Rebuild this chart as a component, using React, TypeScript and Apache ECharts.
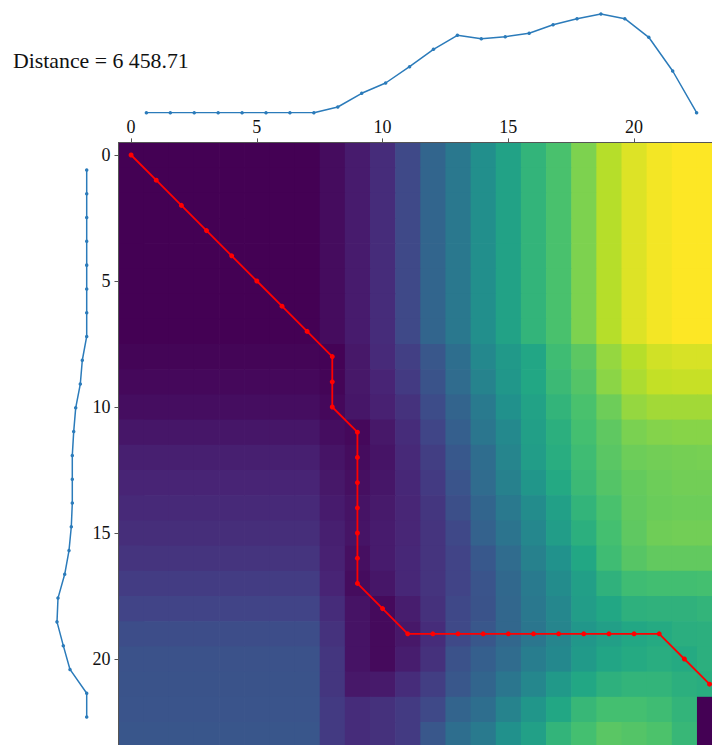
import React, { useEffect, useRef } from "react";
import * as echarts from "echarts";

// Category labels of the cost matrix (column = top series index, row = left series index)
const matrixIndex = [
  "0", "1", "2", "3", "4", "5", "6", "7", "8", "9", "10", "11",
  "12", "13", "14", "15", "16", "17", "18", "19", "20", "21", "22", "23",
];

// Accumulated cost matrix (relative level 0–100)
const costRows: number[][] = [
  [0, 0, 0, 0, 0, 0, 0, 0, 3, 7.5, 12.5, 22, 32.5, 40, 49, 57.5, 65, 71, 80.5, 89, 95, 98.5, 100, 100],
  [0, 0, 0, 0, 0, 0, 0, 0, 3, 7.5, 12.5, 22, 32.5, 40, 49, 57.5, 65, 71, 80.5, 89, 95, 98.5, 100, 100],
  [0, 0, 0, 0, 0, 0, 0, 0, 3, 7.5, 12.5, 22, 32.5, 40, 49, 57.5, 65, 71, 80.5, 89, 95, 98.5, 100, 100],
  [0, 0, 0, 0, 0, 0, 0, 0, 3, 7.5, 12.5, 22, 32.5, 40, 49, 57.5, 65, 71, 80.5, 89, 95, 98.5, 100, 100],
  [0, 0, 0, 0, 0, 0, 0, 0, 3, 7.5, 12.5, 22, 32.5, 40, 49, 57.5, 65, 71, 80.5, 89, 95, 98.5, 100, 100],
  [0, 0, 0, 0, 0, 0, 0, 0, 3, 7.5, 12.5, 22, 32.5, 40, 49, 57.5, 65, 71, 80.5, 89, 95, 98.5, 100, 100],
  [0, 0, 0, 0, 0, 0, 0, 0, 3, 7.5, 12.5, 22, 32.5, 40, 49, 57.5, 65, 71, 80.5, 89, 95, 98.5, 100, 100],
  [0, 0, 0, 0, 0, 0, 0, 0, 3, 7.5, 12.5, 22, 32.5, 40, 49, 57.5, 65, 71, 80.5, 89, 95, 98.5, 100, 100],
  [1, 1, 1, 1, 1, 1, 1, 1, 0.5, 6.5, 12, 18.5, 27, 36, 46.5, 53.5, 59, 68.5, 74.5, 84, 89, 93, 94, 94],
  [2, 2, 2, 2, 2, 2, 2, 2, 1, 6.5, 10, 17, 25.5, 35, 44.5, 52.5, 59.5, 67.5, 73, 82.5, 87.5, 91, 91.5, 91.5],
  [3.5, 3.5, 3.5, 3.5, 3.5, 3.5, 3.5, 3.5, 2, 6, 9, 14.5, 23, 32, 41, 50, 57.5, 65, 71, 77.5, 84, 86, 86, 86],
  [6, 6, 6, 6, 6, 6, 6, 6, 3.5, 2, 6.5, 12.5, 20.5, 30, 39, 47, 56, 63, 70, 75, 80, 81.5, 82, 82],
  [8.5, 8.5, 8.5, 8.5, 8.5, 8.5, 8.5, 8.5, 5.5, 3, 5.5, 11.5, 18, 27.5, 35.5, 45, 55, 62, 68.5, 74, 77.5, 78.5, 79, 79.5],
  [10, 10, 10, 10, 10, 10, 10, 10, 6.5, 4, 6, 11, 17, 26, 35, 43.5, 52, 60.5, 67.5, 73, 76, 77.5, 78.5, 78.5],
  [11.5, 11.5, 11.5, 11.5, 11.5, 11.5, 11.5, 11.5, 7.5, 5, 7, 10.5, 15.5, 24, 32.5, 40.5, 48, 56.5, 65, 71, 75.5, 77, 77.5, 77.5],
  [13, 13, 13, 13, 13, 13, 13, 13, 8.5, 5.5, 7.5, 10.5, 15, 21.5, 31, 38.5, 46, 55, 63, 70, 75, 78, 78.5, 78.5],
  [15, 15, 15, 15, 15, 15, 15, 15, 9, 4, 7.5, 11, 15, 20, 27.5, 35, 43.5, 50.5, 59.5, 68.5, 73.5, 75.5, 75.5, 75.5],
  [17.5, 17.5, 17.5, 17.5, 17.5, 17.5, 17.5, 17.5, 10, 3, 6, 11, 15, 20, 26, 33.5, 41, 48, 56, 64, 68.5, 69.5, 69.5, 70],
  [20, 20, 20, 20, 20, 20, 20, 20, 12.5, 5, 2.5, 8, 14, 21.5, 25.5, 33, 40, 46, 55, 59.5, 63.5, 64, 64, 65],
  [23.5, 23.5, 23.5, 23.5, 23.5, 23.5, 23.5, 23.5, 14.5, 5, 2.5, 6.5, 12.5, 22, 27, 33, 39, 45, 52.5, 56, 59.5, 61, 62.5, 63],
  [25, 25, 25, 25, 25, 25, 25, 25, 15.5, 5, 2.5, 8, 14, 25, 30, 35, 42, 46.5, 54, 58.5, 61, 62, 61, 63],
  [25.5, 25.5, 25.5, 25.5, 25.5, 25.5, 25.5, 25.5, 15.5, 6.5, 7, 12.5, 18, 27, 32.5, 39, 46, 53.5, 59.5, 63.5, 65, 65, 63, 62],
  [26, 26, 26, 26, 26, 26, 26, 26, 17, 12.5, 14, 17, 22, 32, 36, 44.5, 52, 59.5, 66.5, 70, 70, 68.5, 65, 0],
  [26.5, 26.5, 26.5, 26.5, 26.5, 26.5, 26.5, 26.5, 17, 12.5, 14, 17, 27, 36, 41, 50, 56.5, 65, 70, 74, 73, 71.5, 66.5, 0],
];

// Warping path as [column, row]
const warpPath: [number, number][] = [
  [0, 0], [1, 1], [2, 2], [3, 3], [4, 4], [5, 5], [6, 6], [7, 7], [8, 8],
  [8, 9], [8, 10], [9, 11], [9, 12], [9, 13], [9, 14], [9, 15], [9, 16], [9, 17],
  [10, 18], [11, 19], [12, 19], [13, 19], [14, 19], [15, 19], [16, 19], [17, 19],
  [18, 19], [19, 19], [20, 19], [21, 19], [22, 20], [23, 21],
];

// Top series (drawn horizontally above the matrix)
const topSeries = [0, 0, 0, 0, 0, 0, 0, 0, 5.7, 19.4, 29.7, 46, 63.4, 77.4, 74, 76, 79.4, 88, 94, 98.7, 94, 75.4, 41.7, 0];
// Left series (drawn vertically, deviating to the left)
const leftSeries = [0, 0, 0, 0, 0, 0, 0, 0, 4.4, 6.4, 11, 13, 14.4, 14.4, 14.4, 15.4, 17.7, 22, 28.7, 29.7, 23.4, 16.7, 0, 0];

const distanceLabel = "Distance = 6 458.71";

const viridis = [
  "#440154", "#482475", "#414487", "#355f8d", "#2a788e", "#21918c",
  "#22a884", "#44bf70", "#7ad151", "#bddf26", "#fde725",
];

const SERIF = "'Liberation Serif', 'Times New Roman', serif";

export default function App() {
  const ref = useRef<HTMLDivElement>(null);

  useEffect(() => {
    if (!ref.current) return;
    const chart = echarts.init(ref.current, null, { renderer: "svg" });

    const heatData: number[][] = [];
    costRows.forEach((row, r) => row.forEach((v, c) => heatData.push([c, r, v])));

    const cell = 25.15;
    const cellH = 25.2;
    const heatLeft = 118.5;
    const heatTop = 142.4;

    chart.setOption({
      animation: false,
      backgroundColor: "#ffffff",
      grid: [
        { left: heatLeft, top: heatTop, width: cell * matrixIndex.length, height: cellH * matrixIndex.length },
        { left: 146.4, top: 12.7, width: 550.2, height: 100 },
        { left: 46.7, top: 170, width: 40, height: 547 },
      ],
      xAxis: [
        {
          gridIndex: 0,
          type: "category",
          data: matrixIndex,
          position: "top",
          z: 10,
          axisLine: { show: true, lineStyle: { color: "#555", width: 1 } },
          axisTick: { show: true, interval: 4, alignWithLabel: true, length: 4, lineStyle: { color: "#555" } },
          axisLabel: { interval: 4, color: "#111", fontFamily: SERIF, fontSize: 18, margin: 6 },
          splitLine: { show: false },
        },
        { gridIndex: 1, type: "value", min: 0, max: 23, show: false },
        { gridIndex: 2, type: "value", min: 0, max: 40, inverse: true, show: false },
      ],
      yAxis: [
        {
          gridIndex: 0,
          type: "category",
          data: matrixIndex,
          inverse: true,
          z: 10,
          axisLine: { show: true, lineStyle: { color: "#555", width: 1 } },
          axisTick: { show: true, interval: 4, alignWithLabel: true, length: 4, lineStyle: { color: "#555" } },
          axisLabel: { interval: 4, color: "#111", fontFamily: SERIF, fontSize: 18, margin: 8 },
          splitLine: { show: false },
        },
        { gridIndex: 1, type: "value", min: 0, max: 100, show: false },
        { gridIndex: 2, type: "value", min: 0, max: 23, inverse: true, show: false },
      ],
      visualMap: {
        show: false,
        type: "continuous",
        seriesIndex: 0,
        dimension: 2,
        min: 0,
        max: 100,
        inRange: { color: viridis },
      },
      series: [
        {
          type: "custom",
          xAxisIndex: 0,
          yAxisIndex: 0,
          data: heatData,
          encode: { x: 0, y: 1 },
          silent: true,
          renderItem: (params: any, api: any) => {
            const p = api.coord([api.value(0), api.value(1)]);
            const s = api.size([1, 1]);
            return {
              type: "rect",
              shape: { x: p[0] - s[0] / 2, y: p[1] - s[1] / 2, width: s[0] + 0.7, height: s[1] + 0.7 },
              style: { fill: api.visual("color") },
            };
          },
        },
        {
          type: "line",
          xAxisIndex: 0,
          yAxisIndex: 0,
          data: warpPath,
          symbol: "circle",
          symbolSize: 5,
          lineStyle: { color: "#ff0000", width: 1.8 },
          itemStyle: { color: "#ff0000" },
          z: 5,
        },
        {
          type: "line",
          xAxisIndex: 1,
          yAxisIndex: 1,
          data: topSeries.map((v, i) => [i, v]),
          symbol: "circle",
          symbolSize: 3.5,
          lineStyle: { color: "#2b7bba", width: 1.5 },
          itemStyle: { color: "#2b7bba" },
        },
        {
          type: "line",
          xAxisIndex: 2,
          yAxisIndex: 2,
          data: leftSeries.map((v, i) => [v, i]),
          symbol: "circle",
          symbolSize: 3.5,
          lineStyle: { color: "#2b7bba", width: 1.5 },
          itemStyle: { color: "#2b7bba" },
        },
      ],
      graphic: [
        {
          type: "text",
          left: 13,
          top: 50,
          style: { text: distanceLabel, fontFamily: SERIF, fontSize: 21.8, fill: "#111" },
        },
      ],
    });

    return () => chart.dispose();
  }, []);

  return (
    <div
      style={{
        position: "fixed",
        left: 0,
        top: 0,
        width: 712,
        height: 745,
        overflow: "hidden",
        background: "#fff",
      }}
    >
      <div ref={ref} style={{ width: 760, height: 790 }} />
    </div>
  );
}
